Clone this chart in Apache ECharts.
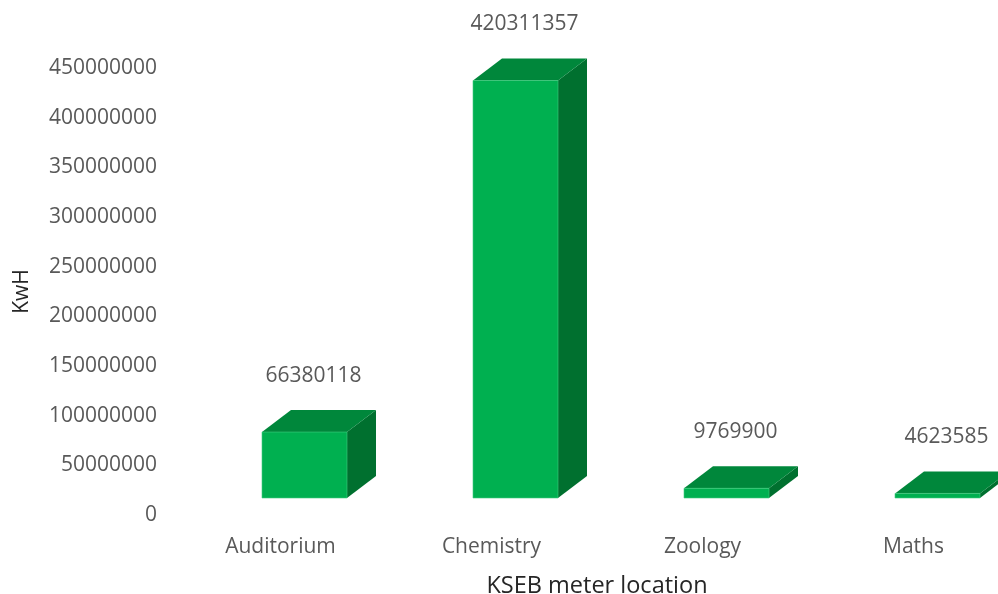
<!DOCTYPE html>
<html>
<head>
<meta charset="utf-8">
<script src="https://cdn.jsdelivr.net/npm/echarts@6/dist/echarts.min.js"></script>
<style>
html,body{margin:0;padding:0;background:#fff;}
#chart{width:998px;height:594px;}
</style>
</head>
<body>
<div id="chart"></div>
<script>
const categories = ['Auditorium', 'Chemistry', 'Zoology', 'Maths'];
const kwhValues = [66380118, 420311357, 9769900, 4623585];
const yTicks = { min: 0, max: 450000000, interval: 50000000 };

// 3D box geometry (pixels)
const FRONT_SHIFT_X = 24, FRONT_W = 85, FRONT_LIFT = 17, DEPTH_X = 29, DEPTH_Y = 22;
const FRONT_COLOR = '#00B050', TOP_COLOR = '#00873B', SIDE_COLOR = '#00702F';

const chart = echarts.init(document.getElementById('chart'), null, {renderer: 'canvas'});

function renderBox(params, api) {
  const i = api.value(0);
  const v = api.value(1);
  const top = api.coord([i, v]);
  const base = api.coord([i, 0]);
  const x0 = top[0] + FRONT_SHIFT_X - FRONT_W / 2;
  const x1 = x0 + FRONT_W;
  const yT = top[1] - FRONT_LIFT;
  const yB = base[1] - FRONT_LIFT;
  const children = [
    { type: 'polygon', shape: { points: [[x1, yT], [x1 + DEPTH_X, yT - DEPTH_Y], [x1 + DEPTH_X, yB - DEPTH_Y], [x1, yB]] },
      style: { fill: SIDE_COLOR } },
    { type: 'polygon', shape: { points: [[x0, yT], [x0 + DEPTH_X, yT - DEPTH_Y], [x1 + DEPTH_X, yT - DEPTH_Y], [x1, yT]] },
      style: { fill: TOP_COLOR } },
    { type: 'rect', shape: { x: x0, y: yT, width: FRONT_W, height: yB - yT },
      style: { fill: FRONT_COLOR, stroke: '#3fcf7f', lineWidth: 0.6 } },
    { type: 'text', x: top[0] + FRONT_SHIFT_X + 9, y: yT - 56,
      style: { text: String(v), fill: '#595959', font: '21px "Open Sans"', align: 'center', verticalAlign: 'middle' } }
  ];
  return { type: 'group', children: children };
}

chart.setOption({
  animation: false,
  backgroundColor: '#ffffff',
  grid: { left: 175, top: 68, width: 844, bottom: 79, containLabel: false, outerBoundsMode: 'none' },
  xAxis: {
    type: 'category',
    data: categories,
    boundaryGap: true,
    axisLine: { show: false },
    axisTick: { show: false },
    axisLabel: { color: '#595959', fontFamily: 'Open Sans', fontSize: 21, margin: 22 },
    name: 'KSEB meter location',
    nameLocation: 'middle',
    nameGap: 59,
    nameTextStyle: { color: '#262626', fontFamily: 'Open Sans', fontSize: 23.5 }
  },
  yAxis: {
    type: 'value',
    min: yTicks.min,
    max: yTicks.max,
    interval: yTicks.interval,
    axisLine: { show: false },
    axisTick: { show: false },
    splitLine: { show: false },
    axisLabel: { color: '#595959', fontFamily: 'Open Sans', fontSize: 21, margin: 18, formatter: v => String(v) },
    name: 'KwH',
    nameLocation: 'middle',
    nameGap: 142,
    nameRotate: 90,
    nameTextStyle: { color: '#262626', fontFamily: 'Open Sans', fontSize: 21 }
  },
  series: [{
    type: 'custom',
    renderItem: renderBox,
    clip: false,
    data: kwhValues.map((v, i) => [i, v])
  }]
});
</script>
</body>
</html>
